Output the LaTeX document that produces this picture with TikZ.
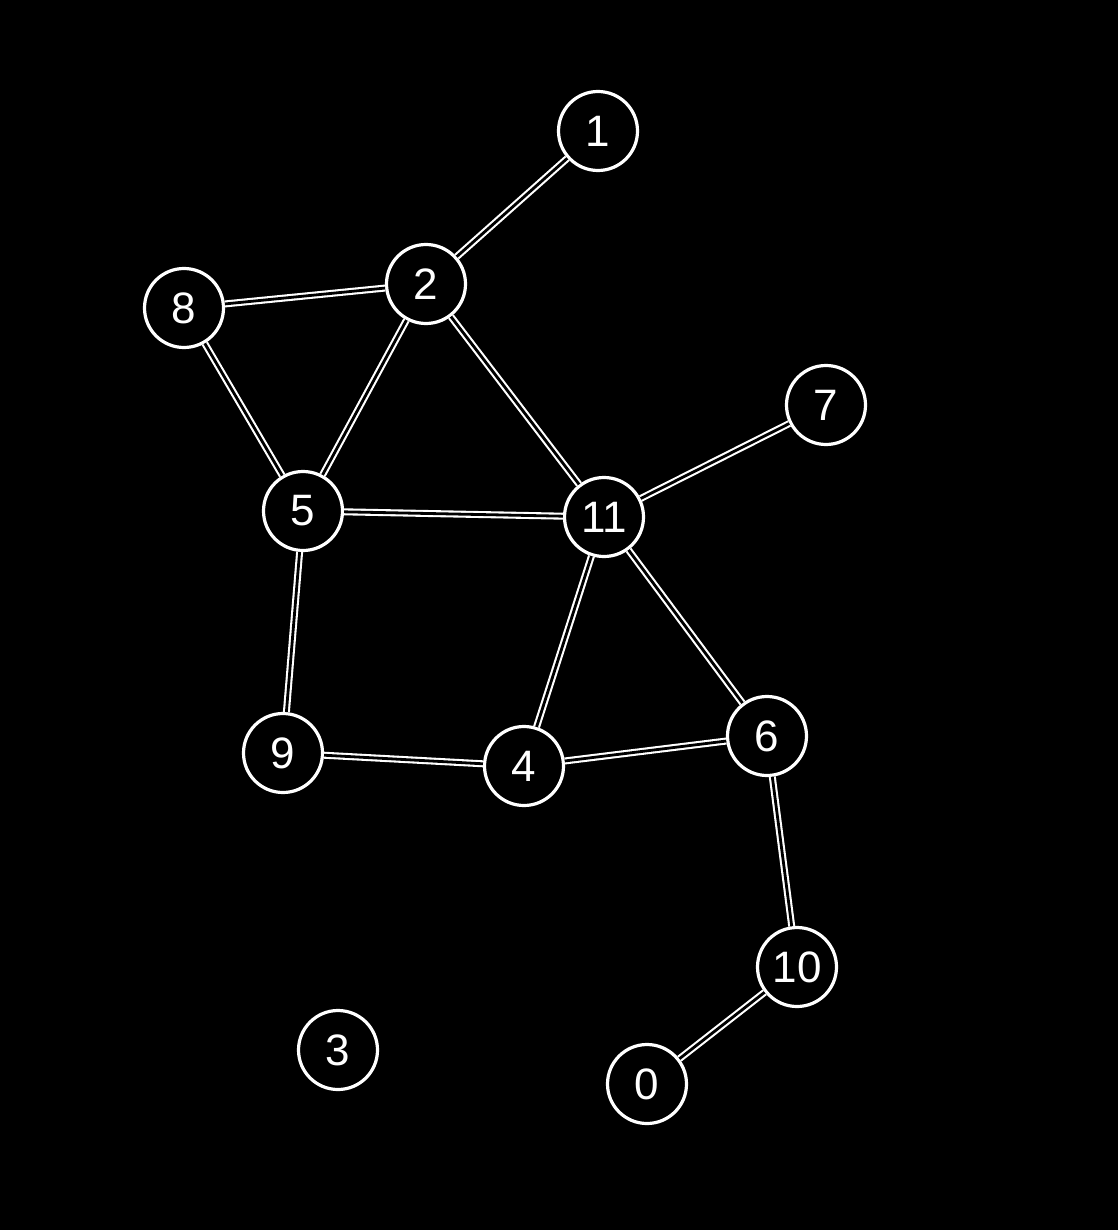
\documentclass[tikz,border=0pt]{standalone}
\usepackage{fontspec}
\setmainfont{Liberation Sans}
\begin{document}
\begin{tikzpicture}[x=1pt,y=-1pt,
  vert/.style={circle,draw=white,line width=3.2pt,fill=black,minimum size=79pt,inner sep=0pt,text=white,font=\fontsize{44}{44}\selectfont},
  link/.style={draw=white,line width=2.1pt,double=black,double distance=2.8pt}]
\fill[black] (0,0) rectangle (1118,1230);
\useasboundingbox (0,0) rectangle (1118,1230);
\node[vert] (n1) at (598,131) {1};
\node[vert] (n2) at (426,284) {2};
\node[vert] (n8) at (184,308) {8};
\node[vert] (n7) at (826,405) {7};
\node[vert] (n5) at (303,511) {5};
\node[vert] (n11) at (604,517) {11};
\node[vert] (n9) at (283,753) {9};
\node[vert] (n4) at (524,766) {4};
\node[vert] (n6) at (767,736) {6};
\node[vert] (n10) at (797,967) {10};
\node[vert] (n3) at (338,1050) {3};
\node[vert] (n0) at (647,1084) {0};
\foreach \a/\b in {n1/n2,n2/n8,n2/n5,n2/n11,n8/n5,n5/n11,n11/n7,n5/n9,n11/n4,n11/n6,n9/n4,n4/n6,n6/n10,n10/n0}
  \draw[link] (\a) -- (\b);
\end{tikzpicture}
\end{document}
